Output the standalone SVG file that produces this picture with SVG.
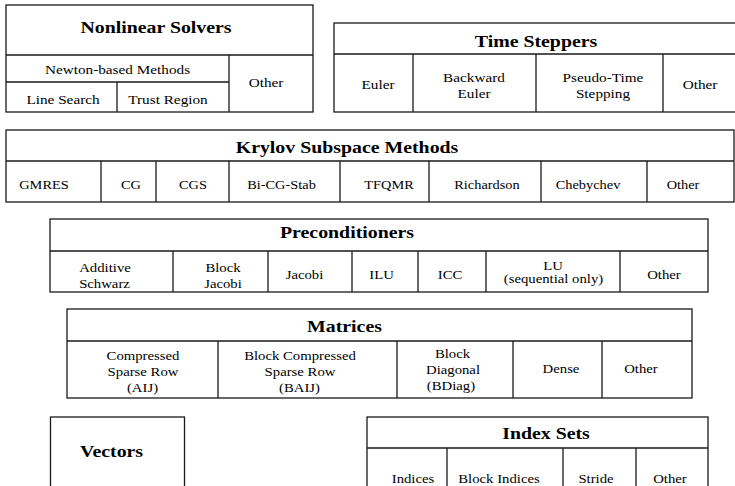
<svg xmlns="http://www.w3.org/2000/svg" width="735" height="486" viewBox="0 0 735 486">
<style>
.box{fill:#fff;stroke:#1a1a1a;stroke-width:1.3}
.ln{stroke:#1a1a1a;stroke-width:1.3;fill:none}
.h{font-family:"Liberation Serif","Times New Roman",serif;font-weight:bold;font-size:16px;fill:#000;text-anchor:middle}
.t{font-family:"Liberation Serif","Times New Roman",serif;font-size:12.5px;fill:#000;text-anchor:middle}
</style>
<rect width="735" height="486" fill="#fff"/>

<g id="nonlinear-solvers">
<rect class="box" x="6" y="5" width="307" height="107"/>
<path class="ln" d="M6 55H313M6 82H229M229 55V112M117 82V112"/>
<text class="h" transform="translate(156,33) scale(1.24,1)">Nonlinear Solvers</text>
<text class="t" transform="translate(117.5,74) scale(1.22,1)">Newton-based Methods</text>
<text class="t" transform="translate(63,104) scale(1.22,1)">Line Search</text>
<text class="t" transform="translate(168,104) scale(1.22,1)">Trust Region</text>
<text class="t" transform="translate(266,87) scale(1.22,1)">Other</text>
</g>

<g id="time-steppers">
<rect class="box" x="334" y="23" width="402" height="89"/>
<path class="ln" d="M334 54H736M413 54V112M536 54V112M663 54V112"/>
<text class="h" transform="translate(536,46.5) scale(1.24,1)">Time Steppers</text>
<text class="t" transform="translate(378,89) scale(1.22,1)">Euler</text>
<text class="t" transform="translate(474,81.5) scale(1.22,1)">Backward</text>
<text class="t" transform="translate(474,98) scale(1.22,1)">Euler</text>
<text class="t" transform="translate(603,81.5) scale(1.22,1)">Pseudo-Time</text>
<text class="t" transform="translate(603,98) scale(1.22,1)">Stepping</text>
<text class="t" transform="translate(700,89) scale(1.22,1)">Other</text>
</g>

<g id="krylov-subspace-methods">
<rect class="box" x="6" y="130" width="728" height="72"/>
<path class="ln" d="M6 161H734M101 161V202M156 161V202M229 161V202M340 161V202M429 161V202M541 161V202M647 161V202"/>
<text class="h" transform="translate(347,152.5) scale(1.24,1)">Krylov Subspace Methods</text>
<text class="t" transform="translate(44,189) scale(1.15,1)">GMRES</text>
<text class="t" transform="translate(131,189) scale(1.15,1)">CG</text>
<text class="t" transform="translate(193,189) scale(1.15,1)">CGS</text>
<text class="t" transform="translate(281.5,189) scale(1.15,1)">Bi-CG-Stab</text>
<text class="t" transform="translate(389,189) scale(1.15,1)">TFQMR</text>
<text class="t" transform="translate(487,189) scale(1.15,1)">Richardson</text>
<text class="t" transform="translate(588,189) scale(1.15,1)">Chebychev</text>
<text class="t" transform="translate(683,189) scale(1.15,1)">Other</text>
</g>

<g id="preconditioners">
<rect class="box" x="50" y="219" width="658" height="73"/>
<path class="ln" d="M50 251H708M173 251V292M268 251V292M352 251V292M418 251V292M486 251V292M620 251V292"/>
<text class="h" transform="translate(347,238) scale(1.24,1)">Preconditioners</text>
<text class="t" transform="translate(105,271.5) scale(1.18,1)">Additive</text>
<text class="t" transform="translate(104.5,287.5) scale(1.18,1)">Schwarz</text>
<text class="t" transform="translate(223,271.5) scale(1.18,1)">Block</text>
<text class="t" transform="translate(223,287.5) scale(1.18,1)">Jacobi</text>
<text class="t" transform="translate(304.5,279) scale(1.18,1)">Jacobi</text>
<text class="t" transform="translate(381.5,279) scale(1.18,1)">ILU</text>
<text class="t" transform="translate(450,279) scale(1.18,1)">ICC</text>
<text class="t" transform="translate(553,269.5) scale(1.18,1)">LU</text>
<text class="t" transform="translate(553.5,283) scale(1.18,1)">(sequential only)</text>
<text class="t" transform="translate(664,279) scale(1.18,1)">Other</text>
</g>

<g id="matrices">
<rect class="box" x="67" y="309" width="625" height="89"/>
<path class="ln" d="M67 341H692M218 341V398M397 341V398M513 341V398M602 341V398"/>
<text class="h" transform="translate(344.5,331.5) scale(1.24,1)">Matrices</text>
<text class="t" transform="translate(143,360) scale(1.18,1)">Compressed</text>
<text class="t" transform="translate(143,376) scale(1.18,1)">Sparse Row</text>
<text class="t" transform="translate(142.5,391.5) scale(1.18,1)">(AIJ)</text>
<text class="t" transform="translate(300,360) scale(1.18,1)">Block Compressed</text>
<text class="t" transform="translate(300,376) scale(1.18,1)">Sparse Row</text>
<text class="t" transform="translate(299.5,391.5) scale(1.18,1)">(BAIJ)</text>
<text class="t" transform="translate(452.5,357.5) scale(1.18,1)">Block</text>
<text class="t" transform="translate(453,374) scale(1.18,1)">Diagonal</text>
<text class="t" transform="translate(451,390) scale(1.18,1)">(BDiag)</text>
<text class="t" transform="translate(561,373) scale(1.18,1)">Dense</text>
<text class="t" transform="translate(641,373) scale(1.18,1)">Other</text>
</g>

<g id="vectors">
<rect class="box" x="50.5" y="417" width="134" height="75"/>
<text class="h" transform="translate(111.5,456.7) scale(1.24,1)">Vectors</text>
</g>

<g id="index-sets">
<rect class="box" x="367" y="417" width="341" height="75"/>
<path class="ln" d="M367 448H708M447 448V492M563 448V492M636 448V492"/>
<text class="h" transform="translate(546,439.3) scale(1.24,1)">Index Sets</text>
<text class="t" transform="translate(413,482.7) scale(1.18,1)">Indices</text>
<text class="t" transform="translate(499,482.7) scale(1.18,1)">Block Indices</text>
<text class="t" transform="translate(596,482.7) scale(1.18,1)">Stride</text>
<text class="t" transform="translate(670,482.7) scale(1.18,1)">Other</text>
</g>
</svg>
